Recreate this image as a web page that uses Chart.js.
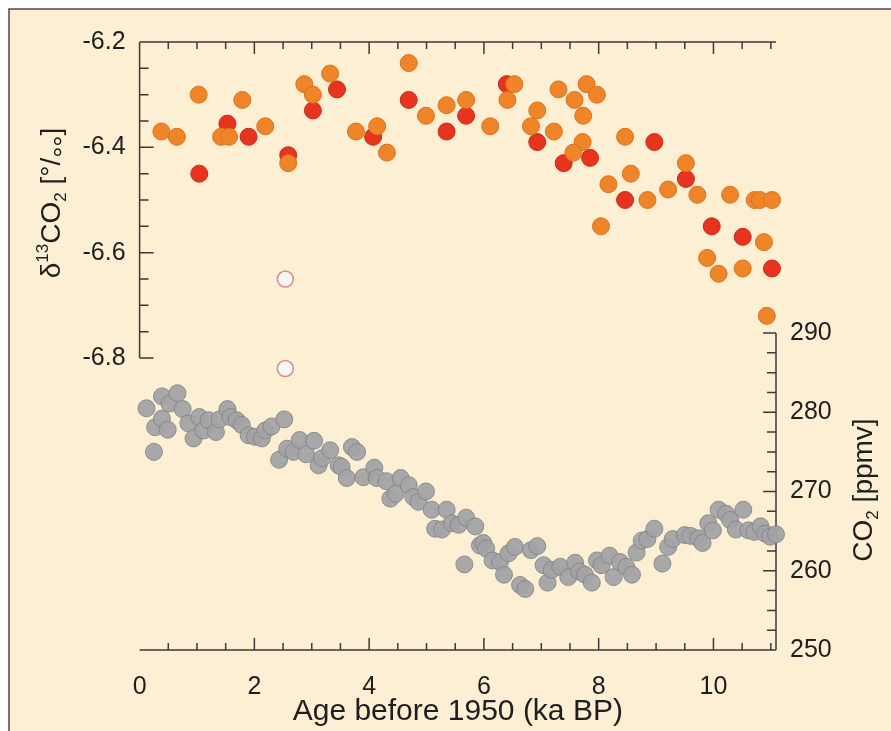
<!DOCTYPE html>
<html>
<head>
<meta charset="utf-8">
<script src="https://cdn.jsdelivr.net/npm/chart.js@4.4.1/dist/chart.umd.min.js"></script>
<style>
  html, body { margin: 0; padding: 0; background: #fff; overflow: hidden; }
  #chart { display: block; }
</style>
</head>
<body>
<canvas id="chart" width="891" height="731"></canvas>
<script>
  // Tick labels
  const xTicks = [0, 2, 4, 6, 8, 10];
  const d13cTicks = [-6.2, -6.4, -6.6, -6.8];
  const co2Ticks = [250, 260, 270, 280, 290];

  // d13CO2, orange series
  const ageOrange = [0.38, 0.65, 1.03, 1.42, 1.56, 1.79, 2.19, 2.59, 2.87, 3.02, 3.32, 3.77,
    4.14, 4.31, 4.69, 4.99, 5.35, 5.69, 6.11, 6.41, 6.53, 6.82, 6.93, 7.22, 7.30, 7.58,
    7.79, 7.97, 7.73, 7.72, 7.56, 8.17, 8.04, 8.46, 8.56, 8.85, 9.21, 9.52, 9.72, 10.29,
    10.72, 10.81, 11.02, 10.88, 9.89, 10.09, 10.51, 10.93];
  const d13cOrange = [-6.37, -6.38, -6.30, -6.38, -6.38, -6.31, -6.36, -6.43, -6.28, -6.30, -6.26, -6.37,
    -6.36, -6.41, -6.24, -6.34, -6.32, -6.31, -6.36, -6.31, -6.28, -6.36, -6.33, -6.37, -6.29, -6.31,
    -6.28, -6.30, -6.34, -6.39, -6.41, -6.47, -6.55, -6.38, -6.45, -6.50, -6.48, -6.43, -6.49, -6.49,
    -6.50, -6.50, -6.50, -6.58, -6.61, -6.64, -6.63, -6.72];

  // d13CO2, red series
  const ageRed = [1.04, 1.53, 1.90, 2.59, 3.02, 3.44, 4.07, 4.69, 5.35, 5.69, 6.40, 6.93,
    7.39, 7.85, 8.46, 8.97, 9.52, 9.97, 10.51, 11.02];
  const d13cRed = [-6.45, -6.355, -6.38, -6.415, -6.33, -6.29, -6.38, -6.31, -6.37, -6.34, -6.28, -6.39,
    -6.43, -6.42, -6.50, -6.39, -6.46, -6.55, -6.57, -6.63];

  // d13CO2, open (excluded) points
  const ageOpen = [2.54, 2.54];
  const d13cOpen = [-6.65, -6.82];

  // CO2 concentration
  const ageCO2 = [0.12, 0.25, 0.27, 0.39, 0.39, 0.49, 0.52, 0.66, 0.75, 0.85, 0.94, 1.04, 1.11, 1.20,
    1.33, 1.39, 1.53, 1.58, 1.69, 1.78, 1.90, 2.01, 2.13, 2.19, 2.30, 2.52, 2.43, 2.57, 2.68, 2.79,
    2.90, 3.04, 3.12, 3.18, 3.32, 3.47, 3.52, 3.61, 3.70, 3.79, 3.90, 4.09, 4.13, 4.30, 4.37, 4.46,
    4.55, 4.69, 4.77, 4.86, 4.99, 5.09, 5.15, 5.27, 5.35, 5.44, 5.56, 5.69, 5.85, 5.93, 5.66, 5.99,
    6.04, 6.15, 6.28, 6.35, 6.43, 6.54, 6.63, 6.72, 6.82, 6.93, 7.04, 7.11, 7.18, 7.33, 7.47, 7.59,
    7.66, 7.76, 7.88, 7.97, 8.05, 8.19, 8.26, 8.37, 8.48, 8.58, 8.66, 8.75, 8.85, 8.97, 9.11, 9.21,
    9.29, 9.50, 9.60, 9.74, 9.81, 9.91, 9.99, 10.09, 10.22, 10.29, 10.39, 10.52, 10.61, 10.71,
    10.82, 10.90, 10.99, 11.09];
  const co2 = [280.5, 275.0, 278.1, 282.0, 279.2, 277.8, 281.1, 282.4, 280.4, 278.6, 276.7, 279.4, 277.7, 279.0,
    277.5, 279.1, 280.4, 279.4, 279.0, 278.4, 277.1, 276.9, 276.7, 277.7, 278.2, 279.1, 274.0, 275.4, 275.0, 276.5,
    274.7, 276.4, 273.3, 274.2, 275.2, 273.3, 273.1, 271.7, 275.6, 275.0, 271.8, 273.0, 271.7, 271.3, 269.1, 269.7,
    271.7, 270.8, 269.3, 268.7, 270.0, 267.7, 265.3, 265.2, 267.7, 266.0, 265.8, 266.7, 265.6, 263.2, 260.8, 263.5,
    262.8, 261.3, 261.1, 259.5, 262.2, 263.0, 258.2, 257.7, 262.6, 263.1, 260.7, 258.5, 260.1, 260.5, 259.2, 261.0,
    259.9, 259.5, 258.5, 261.3, 260.7, 261.9, 259.2, 261.1, 260.5, 259.5, 262.3, 263.8, 264.0, 265.3, 260.9, 263.0,
    264.0, 264.5, 264.4, 264.1, 263.5, 266.0, 265.1, 267.7, 267.2, 266.4, 265.2, 267.7, 265.1, 264.9,
    265.6, 264.7, 264.3, 264.6];

  const FONT = '"Liberation Sans", Arial, Helvetica, sans-serif';
  const TEXT = "#1e1e1e";
  const AXIS = "#3a3a3a";

  function pairs(xs, ys) {
    return xs.map((x, i) => ({ x: x, y: ys[i] }));
  }

  // peach panel with a frame on the left and top
  const panelBg = {
    id: "panelBg",
    beforeDraw(chart) {
      const ctx = chart.ctx;
      ctx.save();
      ctx.fillStyle = "#ffffff";
      ctx.fillRect(0, 0, chart.width, chart.height);
      ctx.fillStyle = "#fdefd3";
      ctx.fillRect(9, 9, chart.width, chart.height);
      ctx.strokeStyle = "#4a4a4a";
      ctx.lineWidth = 1.5;
      ctx.beginPath();
      ctx.moveTo(9, chart.height + 2);
      ctx.lineTo(9, 9);
      ctx.lineTo(chart.width + 2, 9);
      ctx.stroke();
      ctx.restore();
    },
  };

  // axis lines with inward ticks, each y axis covering only its own range
  const axisFrame = {
    id: "axisFrame",
    beforeDatasetsDraw(chart) {
      const { ctx } = chart;
      const x = chart.scales.x, y = chart.scales.y, y2 = chart.scales.y2;
      const x0 = x.getPixelForValue(0), x1 = x.right;
      const yTop = y.getPixelForValue(-6.2), yLeftEnd = y.getPixelForValue(-6.8);
      const yBot = y2.getPixelForValue(250), yRightEnd = y2.getPixelForValue(290);

      ctx.save();
      ctx.strokeStyle = AXIS;
      ctx.lineWidth = 1.5;
      ctx.beginPath();
      ctx.moveTo(x0, yTop); ctx.lineTo(x1, yTop);
      ctx.moveTo(x0, yTop); ctx.lineTo(x0, yLeftEnd);
      ctx.moveTo(x0, yBot); ctx.lineTo(x1, yBot);
      ctx.moveTo(x1, yRightEnd); ctx.lineTo(x1, yBot);

      // top and bottom ticks every 0.5 ka
      for (let i = 1; i <= 22; i++) {
        const v = i * 0.5;
        const px = x.getPixelForValue(v);
        const len = i % 4 === 0 ? 12 : 7;
        ctx.moveTo(px, yTop); ctx.lineTo(px, yTop + len);
        ctx.moveTo(px, yBot); ctx.lineTo(px, yBot - len);
      }
      // left ticks every 0.05 permil
      for (let k = 1; k <= 12; k++) {
        const py = y.getPixelForValue(-6.2 - k * 0.05);
        const len = k % 4 === 0 ? 14 : 9;
        ctx.moveTo(x0, py); ctx.lineTo(x0 + len, py);
      }
      // right ticks every 2.5 ppmv
      for (let k = 1; k <= 16; k++) {
        const py = y2.getPixelForValue(250 + k * 2.5);
        const len = k % 4 === 0 ? 13 : 9;
        ctx.moveTo(x1, py); ctx.lineTo(x1 - len, py);
      }
      ctx.stroke();
      ctx.restore();
    },
  };

  // rotated axis titles with super/subscripts
  function drawRich(ctx, parts, cx, cy, size) {
    const widths = parts.map((p) => {
      ctx.font = Math.round(size * p[1]) + "px " + FONT;
      return ctx.measureText(p[0]).width;
    });
    const total = widths.reduce((a, b) => a + b, 0);
    ctx.save();
    ctx.translate(cx, cy);
    ctx.rotate(-Math.PI / 2);
    ctx.fillStyle = TEXT;
    ctx.textBaseline = "alphabetic";
    let pos = -total / 2;
    parts.forEach((p, i) => {
      ctx.font = Math.round(size * p[1]) + "px " + FONT;
      ctx.fillText(p[0], pos, size * 0.36 + p[2] * size);
      pos += widths[i];
    });
    ctx.restore();
  }

  const axisTitles = {
    id: "axisTitles",
    afterDraw(chart) {
      const ctx = chart.ctx;
      drawRich(ctx, [
        ["\u03b4", 1, 0], ["13", 0.62, -0.42], ["CO", 1, 0], ["2", 0.62, 0.2],
        [" [", 1, 0], ["\u00b0", 1, 0], ["/", 1, 0], ["\u00b0\u00b0", 1, 0.45], ["]", 1, 0],
      ], 50, 203, 28);
      drawRich(ctx, [
        ["CO", 1, 0], ["2", 0.62, 0.2], [" [ppmv]", 1, 0],
      ], 862, 490, 28);
    },
  };

  new Chart(document.getElementById("chart"), {
    type: "scatter",
    data: {
      datasets: [
        {
          label: "open",
          data: pairs(ageOpen, d13cOpen),
          yAxisID: "y",
          order: 0,
          clip: false,
          pointRadius: 8,
          pointBackgroundColor: "#f6f6f4",
          pointBorderColor: "#d88e80",
          pointBorderWidth: 1.5,
        },
        {
          label: "d13C orange",
          data: pairs(ageOrange, d13cOrange),
          yAxisID: "y",
          order: 1,
          clip: false,
          pointRadius: 8.5,
          pointBackgroundColor: "#ef8429",
          pointBorderColor: "#d8741f",
          pointBorderWidth: 1,
        },
        {
          label: "d13C red",
          data: pairs(ageRed, d13cRed),
          yAxisID: "y",
          order: 2,
          clip: false,
          pointRadius: 8.5,
          pointBackgroundColor: "#e6341f",
          pointBorderColor: "#c92b1a",
          pointBorderWidth: 1,
        },
        {
          label: "CO2",
          data: pairs(ageCO2, co2),
          yAxisID: "y2",
          order: 3,
          clip: false,
          pointRadius: 8.5,
          pointBackgroundColor: "rgba(163, 163, 166, 0.95)",
          pointBorderColor: "rgba(130, 130, 134, 0.85)",
          pointBorderWidth: 1,
        },
      ],
    },
    options: {
      responsive: false,
      animation: false,
      layout: { padding: { top: 42, left: 0, right: 0, bottom: 0 } },
      plugins: {
        legend: { display: false },
        tooltip: { enabled: false },
      },
      scales: {
        x: {
          type: "linear",
          position: "bottom",
          min: 0,
          max: 11.09,
          grid: { display: false, drawTicks: false },
          border: { display: false },
          afterBuildTicks: (s) => { s.ticks = xTicks.map((v) => ({ value: v })); },
          afterFit: (s) => { s.height = 81; },
          ticks: { font: { size: 25, family: FONT }, color: TEXT, padding: 22, maxRotation: 0 },
          title: {
            display: true,
            text: "Age before 1950 (ka BP)",
            font: { size: 30, family: FONT },
            color: TEXT,
            padding: { top: 0, bottom: 1 },
          },
        },
        y: {
          type: "linear",
          position: "left",
          min: -7.3544,
          max: -6.2,
          grid: { display: false, drawTicks: false },
          border: { display: false },
          afterBuildTicks: (s) => { s.ticks = d13cTicks.map((v) => ({ value: v })); },
          afterFit: (s) => { s.width = 139.6; },
          ticks: { font: { size: 25, family: FONT }, color: TEXT, padding: 14 },
        },
        y2: {
          type: "linear",
          position: "right",
          min: 250,
          max: 326.72,
          grid: { display: false, drawTicks: false },
          border: { display: false },
          afterBuildTicks: (s) => { s.ticks = co2Ticks.map((v) => ({ value: v })); },
          afterFit: (s) => { s.width = 115; },
          ticks: { font: { size: 25, family: FONT }, color: TEXT, padding: 14 },
        },
      },
    },
    plugins: [panelBg, axisFrame, axisTitles],
  });
</script>
</body>
</html>
